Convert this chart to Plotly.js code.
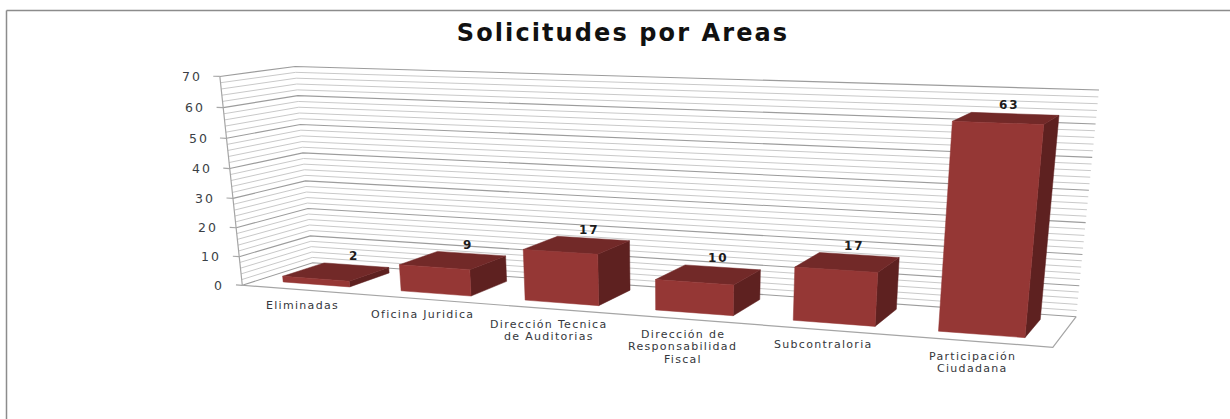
<!DOCTYPE html>
<html>
<head>
<meta charset="utf-8">
<script src="https://cdn.plot.ly/plotly-3.0.1.min.js"></script>
<style>html,body{margin:0;padding:0;background:#fff;overflow:hidden}#chart{width:1230px;height:419px}</style>
</head>
<body>
<div id="chart"></div>
<script>
// ---- data ----
const chartTitle = "Solicitudes por Areas";
const categories = [["Eliminadas"], ["Oficina Juridica"], ["Dirección Tecnica", "de Auditorias"],
  ["Dirección de", "Responsabilidad", "Fiscal"], ["Subcontraloria"], ["Participación", "Ciudadana"]];
const values = [2, 9, 17, 10, 17, 63];
const valueTicks = [0, 10, 20, 30, 40, 50, 60, 70];
const minorStep = 2;
const valueMax = 70;

// ---- 3D view: the chart box (category, depth, value) seen through a camera ----
const boxAnchors = [
  [0, 0, 0, 242, 285], [1, 0, 0, 1053, 347], [1, 1, 0, 1076, 317], [0, 1, 0, 313, 263],
  [0, 0, 1, 220, 77], [0, 1, 1, 295, 66], [1, 1, 1, 1099, 90]
];
function solve(A, b) {
  const n = b.length, M = A.map((r, i) => r.concat([b[i]]));
  for (let c = 0; c < n; c++) {
    let p = c;
    for (let r = c + 1; r < n; r++) if (Math.abs(M[r][c]) > Math.abs(M[p][c])) p = r;
    [M[c], M[p]] = [M[p], M[c]];
    for (let r = 0; r < n; r++) {
      if (r === c) continue;
      const f = M[r][c] / M[c][c];
      for (let k = c; k <= n; k++) M[r][k] -= f * M[c][k];
    }
  }
  return M.map((r, i) => r[n] / r[i]);
}
const camera = (function () {
  const rows = [], rhs = [];
  boxAnchors.forEach(([u, v, w, sx, sy]) => {
    rows.push([u, v, w, 1, 0, 0, 0, 0, -sx * u, -sx * v, -sx * w]); rhs.push(sx);
    rows.push([0, 0, 0, 0, u, v, w, 1, -sy * u, -sy * v, -sy * w]); rhs.push(sy);
  });
  const N = rows[0].length, AtA = [], Atb = [];
  for (let i = 0; i < N; i++) {
    AtA.push([]);
    for (let j = 0; j < N; j++) AtA[i].push(rows.reduce((s, r) => s + r[i] * r[j], 0));
    Atb.push(rows.reduce((s, r, k) => s + r[i] * rhs[k], 0));
  }
  return solve(AtA, Atb);
})();
function project(cat, depth, value) {
  const u = cat / categories.length, w = value / valueMax, p = camera;
  const d = p[8] * u + p[9] * depth + p[10] * w + 1;
  return [(p[0] * u + p[1] * depth + p[2] * w + p[3]) / d,
          (p[4] * u + p[5] * depth + p[6] * w + p[7]) / d];
}

// ---- bar shape ----
const barInset = 0.215, barDepthFront = 0.22, barDepthBack = 0.82;

function pathOf(pts, store) {
  pts.forEach(p => { store.x.push(p[0]); store.y.push(p[1]); });
  store.x.push(null); store.y.push(null);
}
const minor = {x: [], y: []}, major = {x: [], y: []}, ticks = {x: [], y: []}, frame = {x: [], y: []};
const nCat = categories.length;
for (let z = 0; z <= valueMax; z += minorStep) {
  const target = z % 10 === 0 ? major : minor;
  pathOf([project(0, 0, z), project(0, 1, z), project(nCat, 1, z)], target);
}
valueTicks.forEach(t => pathOf([project(-0.055, 0, t), project(0, 0, t)], ticks));
pathOf([project(0, 0, valueMax), project(0, 0, 0), project(nCat, 0, 0), project(nCat, 1, 0)], frame);

const front = {x: [], y: []}, side = {x: [], y: []}, top_ = {x: [], y: []};
values.forEach((v, i) => {
  const a = i + barInset, b = i + 1 - barInset;
  const f0 = barDepthFront, f1 = barDepthBack;
  pathOf([project(a, f0, 0), project(b, f0, 0), project(b, f0, v), project(a, f0, v), project(a, f0, 0)], front);
  pathOf([project(b, f0, 0), project(b, f1, 0), project(b, f1, v), project(b, f0, v), project(b, f0, 0)], side);
  pathOf([project(a, f0, v), project(b, f0, v), project(b, f1, v), project(a, f1, v), project(a, f0, v)], top_);
});

const line = (s, color, width) => ({x: s.x, y: s.y, type: "scatter", mode: "lines", hoverinfo: "skip",
  line: {color, width, simplify: false}, connectgaps: false, showlegend: false});
const face = (s, color) => ({x: s.x, y: s.y, type: "scatter", mode: "lines", fill: "toself", fillcolor: color,
  hoverinfo: "skip", line: {color, width: 0.5, simplify: false}, showlegend: false});

const traces = [
  line(minor, "#c9c9c9", 1), line(major, "#9c9c9c", 1.1), line(ticks, "#a8a8a8", 1.2), line(frame, "#a5a5a5", 1.2),
  face(side, "#5e2120"), face(top_, "#722928"), face(front, "#953735")
];

const spaced = (t, px) => '<span style="letter-spacing:' + px + 'px">' + t + '</span>';
const annotations = [];
const addText = (pos, text, opts) => annotations.push(Object.assign({
  x: pos[0], y: pos[1], xref: "x", yref: "y", text, showarrow: false
}, opts));
valueTicks.forEach(t => addText(project(0, 0, t), spaced(String(t), 2), {
  xanchor: "right", yanchor: "middle", xshift: -16,
  font: {family: "DejaVu Sans", size: 12.5, color: "#3b3f46"}
}));
values.forEach((v, i) => {
  const p = project(i + 0.46, 0.85, v);
  addText(p, "<b>" + spaced(String(v), 2) + "</b>", {xanchor: "center", yanchor: "bottom", yshift: -1,
    font: {family: "DejaVu Sans", size: 12, color: "#1c1c1c"}});
});
categories.forEach((lines, i) => lines.forEach((textLine, k) => addText(project(i + 0.47, 0.07, 0), spaced(textLine, 1.3), {
  xanchor: "center", yanchor: "top", align: "center", yshift: -9 - 12.5 * k,
  font: {family: "DejaVu Sans", size: 11, color: "#35373c"}
})));

const layout = {
  width: 1230, height: 419, margin: {l: 0, r: 0, t: 0, b: 0},
  paper_bgcolor: "#fff", plot_bgcolor: "#fff", showlegend: false, hovermode: false,
  title: {text: "<b>" + spaced(chartTitle, 2.1) + "</b>", x: 623 / 1230, xanchor: "center", y: 1 - 33 / 419, yanchor: "middle",
    font: {family: "DejaVu Sans", size: 24, color: "#111"}},
  xaxis: {range: [0, 1230], visible: false, fixedrange: true},
  yaxis: {range: [419, 0], visible: false, fixedrange: true},
  annotations,
  shapes: [
    {type: "line", xref: "paper", yref: "paper", x0: 6.5 / 1230, x1: 1, y0: 1 - 10.5 / 419, y1: 1 - 10.5 / 419, line: {color: "#8c8c8c", width: 1.5}},
    {type: "line", xref: "paper", yref: "paper", x0: 6.5 / 1230, x1: 6.5 / 1230, y0: 0, y1: 1 - 10.5 / 419, line: {color: "#8c8c8c", width: 1.5}}
  ]
};
Plotly.newPlot("chart", traces, layout, {displayModeBar: false, staticPlot: true});
</script>
</body>
</html>
